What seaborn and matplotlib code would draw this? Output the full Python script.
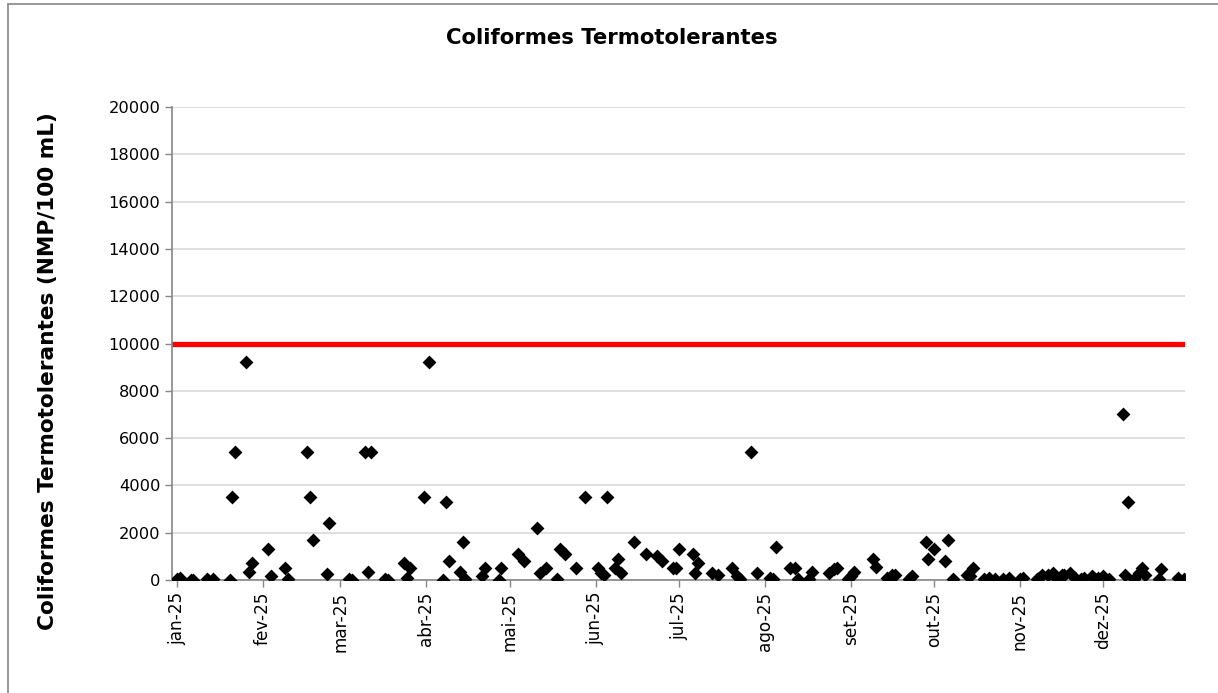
import numpy as np
import pandas as pd
import matplotlib
matplotlib.use("Agg")
import matplotlib.pyplot as plt
import seaborn as sns
from matplotlib.lines import Line2D

# ==============================================================
# data
# ==============================================================
dates = [
    "2025-01-01", "2025-01-02", "2025-01-06", "2025-01-07", "2025-01-12", "2025-01-14",
    "2025-01-20", "2025-01-21", "2025-01-22", "2025-01-26", "2025-01-27", "2025-01-28",
    "2025-02-03", "2025-02-04", "2025-02-09", "2025-02-10", "2025-02-17", "2025-02-18",
    "2025-02-19", "2025-02-24", "2025-02-25", "2025-03-04", "2025-03-05", "2025-03-10",
    "2025-03-11", "2025-03-12", "2025-03-17", "2025-03-18", "2025-03-24", "2025-03-25",
    "2025-03-26", "2025-03-31", "2025-04-02", "2025-04-07", "2025-04-08", "2025-04-09",
    "2025-04-13", "2025-04-14", "2025-04-15", "2025-04-21", "2025-04-22", "2025-04-27",
    "2025-04-28", "2025-05-04", "2025-05-06", "2025-05-11", "2025-05-12", "2025-05-14",
    "2025-05-18", "2025-05-19", "2025-05-21", "2025-05-25", "2025-05-28", "2025-06-02",
    "2025-06-03", "2025-06-04", "2025-06-05", "2025-06-08", "2025-06-09", "2025-06-10",
    "2025-06-15", "2025-06-19", "2025-06-23", "2025-06-25", "2025-06-29", "2025-06-30",
    "2025-07-01", "2025-07-06", "2025-07-07", "2025-07-08", "2025-07-13", "2025-07-15",
    "2025-07-20", "2025-07-22", "2025-07-23", "2025-07-27", "2025-07-29", "2025-08-03",
    "2025-08-04", "2025-08-05", "2025-08-10", "2025-08-12", "2025-08-13", "2025-08-17",
    "2025-08-18", "2025-08-24", "2025-08-26", "2025-08-27", "2025-08-31", "2025-09-01",
    "2025-09-02", "2025-09-09", "2025-09-10", "2025-09-14", "2025-09-16", "2025-09-17",
    "2025-09-22", "2025-09-23", "2025-09-28", "2025-09-29", "2025-10-01", "2025-10-05",
    "2025-10-06", "2025-10-08", "2025-10-13", "2025-10-14", "2025-10-15", "2025-10-19",
    "2025-10-21", "2025-10-23", "2025-10-26", "2025-10-28", "2025-11-01", "2025-11-02",
    "2025-11-07", "2025-11-08", "2025-11-09", "2025-11-11", "2025-11-13", "2025-11-14",
    "2025-11-16", "2025-11-17", "2025-11-19", "2025-11-21", "2025-11-23", "2025-11-24",
    "2025-11-27", "2025-11-28", "2025-11-29", "2025-12-01", "2025-12-03", "2025-12-08",
    "2025-12-09", "2025-12-10", "2025-12-12", "2025-12-14", "2025-12-15", "2025-12-16",
    "2025-12-21", "2025-12-22", "2025-12-28", "2025-12-30",
]
values = [
    50, 80, 20, 20, 50, 50,
    20, 3500, 5400, 9200, 350, 700,
    1300, 150, 500, 40, 5400, 3500,
    1700, 250, 2400, 50, 20, 5400,
    350, 5400, 50, 20, 700, 80,
    500, 3500, 9200, 20, 3300, 800,
    350, 1600, 50, 150, 500, 20,
    500, 1100, 800, 2200, 300, 500,
    50, 1300, 1100, 500, 3500, 500,
    300, 200, 3500, 500, 900, 300,
    1600, 1100, 1000, 800, 500, 500,
    1300, 1100, 300, 700, 300, 200,
    500, 150, 50, 5400, 300, 100,
    50, 1400, 500, 500, 50, 50,
    350, 300, 450, 500, 50, 150,
    350, 900, 550, 100, 200, 200,
    50, 150, 1600, 900, 1300, 800,
    1700, 30, 200, 150, 500, 30,
    100, 50, 50, 80, 30, 80,
    30, 100, 200, 200, 300, 100,
    200, 200, 300, 100, 30, 80,
    150, 50, 100, 150, 50, 7000,
    200, 3300, 50, 300, 500, 200,
    50, 450, 100, 30,
]
limit_value = 10000
month_ticks = ["2025-01-01", "2025-02-01", "2025-03-01", "2025-04-01", "2025-05-01", "2025-06-01",
               "2025-07-01", "2025-08-01", "2025-09-01", "2025-10-01", "2025-11-01", "2025-12-01"]
month_labels = ["jan-25", "fev-25", "mar-25", "abr-25", "mai-25", "jun-25",
                "jul-25", "ago-25", "set-25", "out-25", "nov-25", "dez-25"]
y_ticks = list(range(0, 20001, 2000))

df = pd.DataFrame({"data": pd.to_datetime(dates), "valor": values})

# ==============================================================
# figure
# ==============================================================
sns.set_theme(style="white")
plt.rcParams["font.family"] = ["DejaVu Sans"]
plt.rcParams["text.color"] = "black"
plt.rcParams["axes.labelcolor"] = "black"

fig = plt.figure(figsize=(12.18, 6.93), dpi=100)
ax = fig.add_axes([172 / 1218, 1 - 580 / 693, (1185 - 172) / 1218, (580 - 107) / 693])

ax.axhline(limit_value, color="#ff0000", linewidth=3.8, zorder=2)
sns.scatterplot(data=df, x="data", y="valor", marker="D", s=50, color="black",
                edgecolor="black", linewidth=0, ax=ax, zorder=3, legend=False)

ax.set_ylim(0, 20000)
ax.set_yticks(y_ticks)
ax.set_yticklabels([str(v) for v in y_ticks], fontsize=11.7)
ax.set_xlim(pd.Timestamp("2024-12-30 06:00"), pd.Timestamp("2025-12-30 12:00"))
ax.set_xticks(pd.to_datetime(month_ticks))
ax.set_xticklabels(month_labels, rotation=90, fontsize=12.2)

ax.grid(axis="y", color="#d9d9d9", linewidth=1.2)
ax.set_axisbelow(True)
for side in ["top", "right"]:
    ax.spines[side].set_visible(False)
for side in ["left", "bottom"]:
    ax.spines[side].set_color("#868686")
    ax.spines[side].set_linewidth(1.2)
ax.tick_params(axis="both", direction="out", length=5, width=1, color="#868686",
               labelcolor="black", left=True, bottom=True)

ax.set_xlabel("")
ax.set_ylabel("Coliformes Termotolerantes (NMP/100 mL)", fontsize=15.6,
              fontweight="bold", labelpad=0)
ax.yaxis.set_label_coords(-0.113, 0.442)

fig.text(612 / 1218, 1 - 38 / 693, "Coliformes Termotolerantes", ha="center", va="center",
         fontsize=15.3, fontweight="bold")

# outer chart border (left and top edges visible)
fig.add_artist(Line2D([8 / 1218, 8 / 1218], [0, 1 - 4 / 693], transform=fig.transFigure,
                      color="#868686", linewidth=1.2))
fig.add_artist(Line2D([8 / 1218, 1], [1 - 4 / 693, 1 - 4 / 693], transform=fig.transFigure,
                      color="#868686", linewidth=1.2))

fig.savefig("out.png", dpi=100)
